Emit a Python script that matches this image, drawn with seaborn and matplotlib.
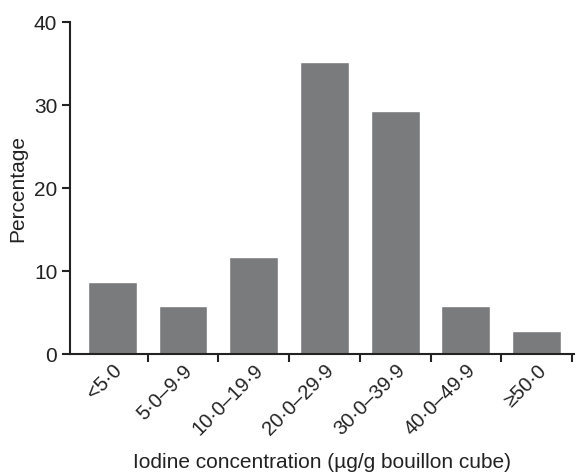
import matplotlib
matplotlib.use('Agg')
import matplotlib.pyplot as plt
import seaborn as sns
import pandas as pd

# data
categories = ['<5·0', '5·0–9·9', '10·0–19·9', '20·0–29·9', '30·0–39·9', '40·0–49·9', '≥50·0']
percentages = [8.7, 5.8, 11.7, 35.2, 29.3, 5.8, 2.8]

df = pd.DataFrame({'range': categories, 'pct': percentages})

sns.set_style('ticks')
plt.rcParams['font.family'] = ['Liberation Sans', 'DejaVu Sans']

fig = plt.figure(figsize=(5.77, 4.72), dpi=100)
ax = fig.add_axes([0.121, 0.25, 0.874, 0.703])

sns.barplot(data=df, x='range', y='pct', color='#7a7b7d', saturation=1,
            width=0.69, ax=ax)

ax.set_xlim(-0.6, 6.53)
ax.set_ylim(0, 40)
ax.set_yticks([0, 10, 20, 30, 40])
sns.despine(ax=ax)
for s in ['left', 'bottom']:
    ax.spines[s].set_linewidth(1.5)
    ax.spines[s].set_color('#222222')

# ticks sit between the bars, labels under the bars
ax.set_xticks([i + 0.5 for i in range(len(categories))], minor=True)
ax.tick_params(axis='x', which='minor', length=6, width=1.5, color='#222222')
ax.tick_params(axis='x', which='major', length=0, pad=5)
ax.set_xticklabels(categories, rotation=45, ha='right', rotation_mode='anchor',
                   fontsize=14.5, color='#222222')
ax.tick_params(axis='y', length=6, width=1.5, color='#222222', labelsize=15,
               labelcolor='#222222', pad=3)

ax.set_xlabel('Iodine concentration (µg/g bouillon cube)', fontsize=15,
              color='#222222', labelpad=10)
ax.set_ylabel('Percentage', fontsize=15, color='#222222', labelpad=5)

fig.savefig('out.png', dpi=100)
